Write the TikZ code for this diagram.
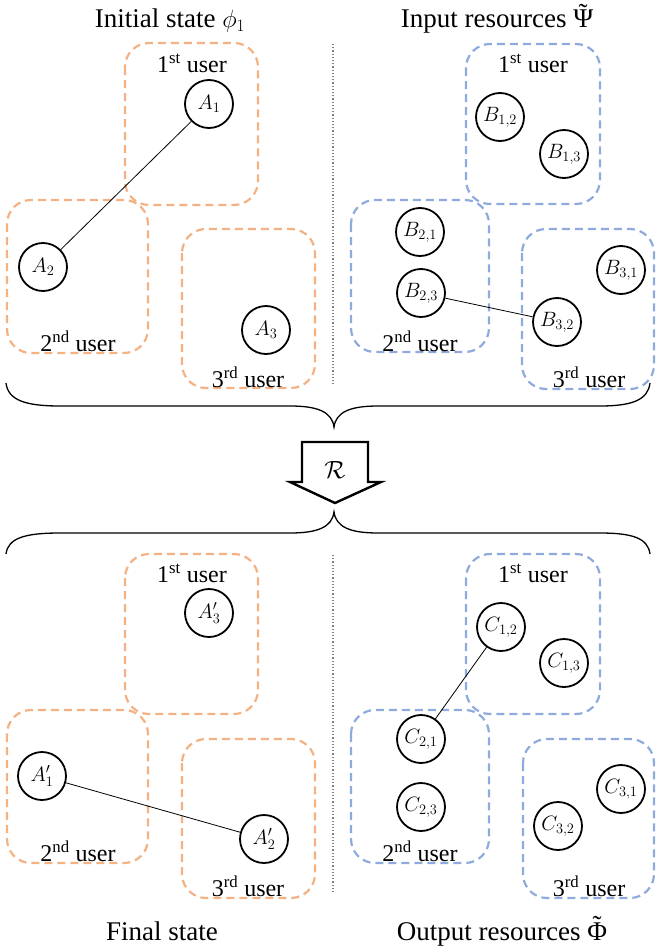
\documentclass[tikz,border=0pt]{standalone}
\usepackage{fontspec}
\setmainfont{Liberation Serif}
\usepackage{amsmath}
\definecolor{borange}{HTML}{F4B183}
\definecolor{bblue}{HTML}{8FAADC}
\newcommand{\tildecap}[1]{{\ooalign{#1\cr\hidewidth\raisebox{0.2em}{˜}\hidewidth\cr}}}
\begin{document}
\begin{tikzpicture}[x=1pt,y=-1pt,
  ubox/.style={draw, line width=2.2pt, dash pattern=on 8pt off 5pt, rounded corners=24pt},
  obox/.style={ubox, draw=borange},
  lbox/.style={ubox, draw=bblue},
  qnode/.style={circle, draw, line width=1.8pt, minimum size=48pt, inner sep=0pt, font=\fontsize{22}{26}\selectfont},
  ulab/.style={font=\fontsize{24}{28}\selectfont, inner sep=0pt},
  ttl/.style={font=\fontsize{27}{32}\selectfont, inner sep=0pt},
  link/.style={draw, line width=0.8pt},
  divider/.style={draw=gray, line width=1.2pt, dotted},
  brace/.style={draw, line width=1.3pt}
]
\useasboundingbox (0,0) rectangle (656,950);

% ---------- titles ----------
\node[ttl, anchor=base] (t1) at (170,28) {Initial state $\phi_1$};
\node[ttl, anchor=base] (t2) at (497,28) {Input resources \tildecap{Ψ}};
\node[ttl, anchor=base] (t3) at (162,940) {Final state};
\node[ttl, anchor=base] (t4) at (502,940) {Output resources \tildecap{Φ}};

% ---------- dividers ----------
\coordinate (d1a) at (333,44); \coordinate (d1b) at (333,385);
\coordinate (d2a) at (333,555); \coordinate (d2b) at (333,893);
\draw[divider] (d1a) -- (d1b);
\draw[divider] (d2a) -- (d2b);

% ---------- top-left: initial state ----------
\draw[obox] (125,43) rectangle (258,205);
\draw[obox] (7,200) rectangle (148,353);
\draw[obox] (182,229) rectangle (315,388);
\node[ulab] (tl1) at (192,63) {1\textsuperscript{st} user};
\node[ulab] (tl2) at (78,341) {2\textsuperscript{nd} user};
\node[ulab] (tl3) at (248,377) {3\textsuperscript{rd} user};
\node[qnode] (A1) at (209,104) {$A_1$};
\node[qnode] (A2) at (43,267) {$A_2$};
\node[qnode] (A3) at (266,330) {$A_3$};
\draw[link] (A1) -- (A2);

% ---------- top-right: input resources ----------
\draw[lbox] (466,44) rectangle (600,204);
\draw[lbox] (351,200) rectangle (489,352);
\draw[lbox] (522,229) rectangle (654,389);
\node[ulab] (tr1) at (533,63) {1\textsuperscript{st} user};
\node[ulab] (tr2) at (420,341) {2\textsuperscript{nd} user};
\node[ulab] (tr3) at (589,377) {3\textsuperscript{rd} user};
\node[qnode] (B12) at (500,117) {$B_{1,2}$};
\node[qnode] (B13) at (564,154) {$B_{1,3}$};
\node[qnode] (B21) at (420,232) {$B_{2,1}$};
\node[qnode] (B23) at (421,293) {$B_{2,3}$};
\node[qnode] (B32) at (557,322) {$B_{3,2}$};
\node[qnode] (B31) at (621,270) {$B_{3,1}$};
\draw[link] (B23) -- (B32);

% ---------- braces ----------
\draw[brace] (6,383) .. controls (8,400) and (25,406) .. (60,406)
  -- (290,406) .. controls (318,406) and (332,412) .. (334,427)
  .. controls (336,412) and (350,406) .. (378,406)
  -- (600,406) .. controls (632,406) and (648,400) .. (650,383);
\draw[brace] (6,554) .. controls (8,538) and (25,533) .. (60,533)
  -- (290,533) .. controls (318,533) and (332,527) .. (334,512)
  .. controls (336,527) and (350,533) .. (378,533)
  -- (600,533) .. controls (632,533) and (648,538) .. (650,554);

% ---------- arrow R ----------
\draw[line width=2.4pt, line join=miter, fill=white]
  (302,442) -- (368,442) -- (368,482) -- (381,482) -- (335,503)
  -- (290,482) -- (302,482) -- cycle;
\node[font=\fontsize{36}{40}\selectfont] (R) at (335,470) {$\mathcal{R}$};

% ---------- bottom-left: final state ----------
\draw[obox] (125,554) rectangle (258,714);
\draw[obox] (7,710) rectangle (148,863);
\draw[obox] (182,739) rectangle (315,898);
\node[ulab] (bl1) at (192,573) {1\textsuperscript{st} user};
\node[ulab] (bl2) at (78,851) {2\textsuperscript{nd} user};
\node[ulab] (bl3) at (248,886) {3\textsuperscript{rd} user};
\node[qnode] (Ap3) at (209,613) {$A'_3$};
\node[qnode] (Ap1) at (42,776) {$A'_1$};
\node[qnode] (Ap2) at (264,839) {$A'_2$};
\draw[link] (Ap1) -- (Ap2);

% ---------- bottom-right: output resources ----------
\draw[lbox] (466,554) rectangle (600,714);
\draw[lbox] (351,710) rectangle (489,863);
\draw[lbox] (523,739) rectangle (654,898);
\node[ulab] (br1) at (533,573) {1\textsuperscript{st} user};
\node[ulab] (br2) at (420,851) {2\textsuperscript{nd} user};
\node[ulab] (br3) at (589,886) {3\textsuperscript{rd} user};
\node[qnode] (C12) at (501,627) {$C_{1,2}$};
\node[qnode] (C13) at (564,663) {$C_{1,3}$};
\node[qnode] (C21) at (421,739) {$C_{2,1}$};
\node[qnode] (C23) at (421,807) {$C_{2,3}$};
\node[qnode] (C31) at (621,789) {$C_{3,1}$};
\node[qnode] (C32) at (558,826) {$C_{3,2}$};
\draw[link] (C12) -- (C21);
\end{tikzpicture}
\end{document}
